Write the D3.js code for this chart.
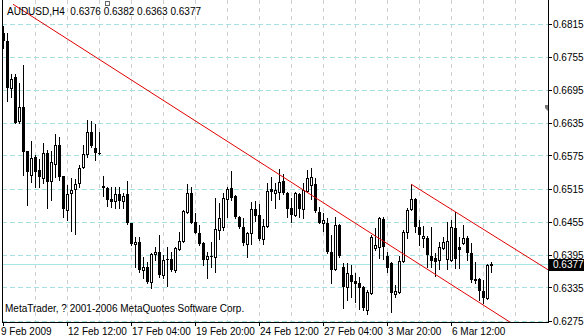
<!DOCTYPE html>
<html>
<head>
<meta charset="utf-8">
<script src="https://cdn.jsdelivr.net/npm/d3@7"></script>
<style>
  html, body { margin: 0; padding: 0; background: #fff; }
  svg { display: block; }
  text { font-family: "Liberation Sans", Arial, sans-serif; font-size: 10px; }
</style>
</head>
<body>
<div id="chart"></div>
<script>
// AUDUSD H4 bars (oldest first)
var symbol = "AUDUSD,H4";
var opens = [
  0.6797,0.6784,0.6697,0.6717,0.6637,0.6663,0.6583,0.6539,0.6572,0.6548,
  0.6534,0.6579,0.6528,0.6559,0.6595,0.6538,0.6476,0.6507,0.6514,0.6525,
  0.6554,0.6577,0.6617,0.6588,0.6579,0.6519,0.6516,0.6496,0.6492,0.6505,
  0.6492,0.6505,0.6452,0.6414,0.6418,0.6367,0.6372,0.6345,0.6396,0.6400,
  0.6358,0.6386,0.6387,0.6367,0.6405,0.6420,0.6472,0.6507,0.6454,0.6434,
  0.6416,0.6387,0.6392,0.6390,0.6440,0.6445,0.6496,0.6516,0.6501,0.6463,
  0.6445,0.6414,0.6434,0.6478,0.6467,0.6423,0.6447,0.6514,0.6507,0.6508,
  0.6528,0.6507,0.6479,0.6467,0.6505,0.6478,0.6510,0.6521,0.6523,0.6472,
  0.6452,0.6452,0.6400,0.6369,0.6449,0.6372,0.6336,0.6358,0.6347,0.6343,
  0.6336,0.6294,0.6325,0.6407,0.6409,0.6459,0.6392,0.6380,0.6323,0.6327,
  0.6383,0.6436,0.6478,0.6496,0.6445,0.6425,0.6425,0.6392,0.6389,0.6385,
  0.6407,0.6387,0.6385,0.6443,0.6409,0.6416,0.6425,0.6398,0.6351,0.6351,
  0.6329,0.6316,0.6376
];
var highs = [
  0.6811,0.6797,0.6724,0.6724,0.6706,0.6739,0.6584,0.6601,0.6576,0.6568,
  0.6597,0.6585,0.6583,0.6615,0.6608,0.6538,0.6521,0.6534,0.6532,0.6557,
  0.6595,0.6639,0.6637,0.6632,0.6617,0.6538,0.6518,0.6518,0.6518,0.6518,
  0.6507,0.6528,0.6453,0.6427,0.6427,0.6390,0.6381,0.6398,0.6409,0.6430,
  0.6394,0.6409,0.6400,0.6409,0.6436,0.6476,0.6523,0.6518,0.6470,0.6449,
  0.6417,0.6400,0.6418,0.6498,0.6488,0.6507,0.6518,0.6547,0.6503,0.6465,
  0.6461,0.6436,0.6490,0.6492,0.6487,0.6459,0.6525,0.6536,0.6525,0.6550,
  0.6541,0.6508,0.6498,0.6508,0.6507,0.6525,0.6548,0.6552,0.6534,0.6481,
  0.6470,0.6461,0.6430,0.6463,0.6450,0.6380,0.6380,0.6376,0.6361,0.6354,
  0.6337,0.6331,0.6430,0.6443,0.6463,0.6463,0.6400,0.6381,0.6340,0.6392,
  0.6440,0.6479,0.6523,0.6497,0.6458,0.6447,0.6429,0.6445,0.6398,0.6418,
  0.6427,0.6454,0.6458,0.6472,0.6427,0.6449,0.6429,0.6416,0.6381,0.6352,
  0.6349,0.6378,0.6382
];
var lows = [
  0.6770,0.6675,0.6681,0.6634,0.6635,0.6539,0.6485,0.6527,0.6518,0.6518,
  0.6525,0.6479,0.6494,0.6536,0.6530,0.6463,0.6458,0.6438,0.6432,0.6518,
  0.6552,0.6572,0.6590,0.6567,0.6577,0.6501,0.6483,0.6481,0.6479,0.6479,
  0.6479,0.6450,0.6412,0.6372,0.6363,0.6352,0.6343,0.6334,0.6385,0.6354,
  0.6352,0.6338,0.6365,0.6363,0.6403,0.6418,0.6470,0.6452,0.6434,0.6412,
  0.6376,0.6352,0.6372,0.6363,0.6423,0.6440,0.6463,0.6494,0.6461,0.6443,
  0.6412,0.6390,0.6414,0.6456,0.6421,0.6414,0.6445,0.6494,0.6479,0.6496,
  0.6505,0.6463,0.6454,0.6465,0.6463,0.6461,0.6508,0.6496,0.6472,0.6452,
  0.6438,0.6398,0.6343,0.6367,0.6390,0.6298,0.6313,0.6318,0.6309,0.6296,
  0.6294,0.6287,0.6324,0.6403,0.6389,0.6387,0.6363,0.6291,0.6318,0.6325,
  0.6381,0.6425,0.6476,0.6436,0.6412,0.6409,0.6372,0.6372,0.6356,0.6369,
  0.6405,0.6369,0.6383,0.6371,0.6371,0.6414,0.6385,0.6345,0.6343,0.6313,
  0.6307,0.6314,0.6363
];
var closes = [
  0.6784,0.6697,0.6715,0.6635,0.6663,0.6581,0.6545,0.6570,0.6545,0.6536,
  0.6579,0.6527,0.6563,0.6595,0.6536,0.6478,0.6505,0.6512,0.6523,0.6552,
  0.6577,0.6617,0.6592,0.6579,0.6578,0.6516,0.6494,0.6490,0.6505,0.6492,
  0.6501,0.6452,0.6414,0.6418,0.6367,0.6372,0.6345,0.6396,0.6400,0.6358,
  0.6385,0.6385,0.6367,0.6407,0.6420,0.6474,0.6507,0.6452,0.6434,0.6414,
  0.6385,0.6392,0.6391,0.6441,0.6461,0.6498,0.6514,0.6498,0.6463,0.6445,
  0.6416,0.6434,0.6478,0.6465,0.6423,0.6447,0.6510,0.6508,0.6512,0.6527,
  0.6507,0.6478,0.6467,0.6507,0.6478,0.6512,0.6534,0.6536,0.6474,0.6452,
  0.6458,0.6400,0.6367,0.6449,0.6392,0.6336,0.6361,0.6345,0.6342,0.6334,
  0.6298,0.6327,0.6427,0.6412,0.6461,0.6409,0.6371,0.6325,0.6329,0.6383,
  0.6436,0.6476,0.6496,0.6445,0.6430,0.6429,0.6394,0.6383,0.6381,0.6409,
  0.6418,0.6420,0.6445,0.6387,0.6403,0.6425,0.6398,0.6349,0.6347,0.6329,
  0.6316,0.6376,0.6377
];

var priceTicks = [0.6815,0.6755,0.6695,0.6635,0.6575,0.6515,0.6455,0.6395,0.6335,0.6275];
var timeTickBars = [0,16,32,48,64,80,96,112];
var timeTickLabels = ["9 Feb 2009","12 Feb 12:00","17 Feb 04:00","19 Feb 20:00",
  "24 Feb 12:00","27 Feb 04:00","3 Mar 20:00","6 Mar 12:00"];
var gridBars = [8,16,24,32,40,48,56,64,72,80,88,96,104,112,120,128];

// trend lines: [bar, price] anchor pairs, drawn as rays to the right
var trendLine = [[2.5,0.6850],[70,0.6536]];
var channelLine = [[102,0.6523],[113,0.6473]];

var copyright = "MetaTrader, ? 2001-2006 MetaQuotes Software Corp.";

var W = 584, H = 336;
var plotL = 2, plotR = 548, plotT = 0, plotB = 322;

var x = d3.scaleLinear().domain([0,1]).range([3,7]); // 4px per bar
var y = d3.scaleLinear().domain([0.6275,0.6815]).range([320.5,23.5]);

var svg = d3.select("#chart").append("svg")
  .attr("width", W).attr("height", H);

svg.append("rect").attr("width", W).attr("height", H).attr("fill", "#fff");

svg.append("clipPath").attr("id", "plotclip").append("rect")
  .attr("x", plotL + 1).attr("y", plotT).attr("width", plotR - plotL - 1).attr("height", plotB - plotT);

var plot = svg.append("g").attr("clip-path", "url(#plotclip)");

// vertical grid
plot.selectAll(".vgrid").data(gridBars).enter().append("line")
  .attr("x1", function (d) { return Math.round(x(d)) + 0.5; })
  .attr("x2", function (d) { return Math.round(x(d)) + 0.5; })
  .attr("y1", plotT).attr("y2", plotB)
  .attr("stroke", "#cfcfcf").attr("stroke-dasharray", "4,4");

// horizontal grid
plot.selectAll(".hgrid").data(priceTicks).enter().append("line")
  .attr("x1", plotL).attr("x2", plotR)
  .attr("y1", function (d) { return Math.round(y(d)) + 0.5; })
  .attr("y2", function (d) { return Math.round(y(d)) + 0.5; })
  .attr("stroke", "#a6e0e0").attr("stroke-dasharray", "5,3");

// bid line
var last = closes[closes.length - 1];
plot.append("line")
  .attr("x1", plotL).attr("x2", plotR)
  .attr("y1", Math.round(y(last)) + 0.5).attr("y2", Math.round(y(last)) + 0.5)
  .attr("stroke", "#a6e6e6");

// candles
var bars = d3.range(opens.length);
var candle = plot.selectAll(".bar").data(bars).enter().append("g")
  .attr("shape-rendering", "crispEdges");

candle.append("line")
  .attr("x1", function (i) { return Math.round(x(i)) + 0.5; })
  .attr("x2", function (i) { return Math.round(x(i)) + 0.5; })
  .attr("y1", function (i) { return Math.round(y(highs[i])); })
  .attr("y2", function (i) { return Math.round(y(lows[i])) + 1; })
  .attr("stroke", "#000");

candle.append("rect")
  .attr("x", function (i) {
    var cx = Math.round(x(i));
    return closes[i] >= opens[i] ? cx - 0.5 : cx - 1;
  })
  .attr("y", function (i) {
    var top = Math.round(y(Math.max(opens[i], closes[i])));
    return closes[i] >= opens[i] ? top + 0.5 : top;
  })
  .attr("width", function (i) { return closes[i] >= opens[i] ? 2 : 3; })
  .attr("height", function (i) {
    var h = Math.round(y(Math.min(opens[i], closes[i]))) - Math.round(y(Math.max(opens[i], closes[i])));
    return closes[i] >= opens[i] ? Math.max(h, 1) : Math.max(h, 1);
  })
  .attr("fill", function (i) { return closes[i] >= opens[i] ? "#fff" : "#000"; })
  .attr("stroke", function (i) { return closes[i] >= opens[i] ? "#000" : "none"; });

// trend lines (rays)
function ray(pts) {
  var x1 = x(pts[0][0]), y1 = y(pts[0][1]);
  var x2 = x(pts[1][0]), y2 = y(pts[1][1]);
  var k = (y2 - y1) / (x2 - x1);
  return [x1, y1, plotR, y1 + k * (plotR - x1)];
}
[trendLine, channelLine].forEach(function (pts) {
  var r = ray(pts);
  plot.append("line")
    .attr("x1", r[0]).attr("y1", r[1]).attr("x2", r[2]).attr("y2", r[3])
    .attr("stroke", "#e00000").attr("stroke-width", 1);
});

// frame
svg.append("line").attr("x1", plotL + 0.5).attr("x2", plotL + 0.5)
  .attr("y1", plotT).attr("y2", plotB + 1).attr("stroke", "#000");
svg.append("line").attr("x1", plotR + 0.5).attr("x2", plotR + 0.5)
  .attr("y1", plotT).attr("y2", plotB + 1).attr("stroke", "#000");
svg.append("line").attr("x1", plotL).attr("x2", plotR + 1)
  .attr("y1", plotB + 0.5).attr("y2", plotB + 0.5).attr("stroke", "#000");

// price axis
var pAxis = svg.append("g");
pAxis.selectAll(".ptick").data(priceTicks).enter().append("line")
  .attr("x1", plotR + 1).attr("x2", plotR + 4)
  .attr("y1", function (d) { return Math.round(y(d)) + 0.5; })
  .attr("y2", function (d) { return Math.round(y(d)) + 0.5; })
  .attr("stroke", "#000");
pAxis.selectAll(".plabel").data(priceTicks).enter().append("text")
  .attr("x", 553).attr("y", function (d) { return y(d) + 4; })
  .attr("fill", "#000")
  .text(function (d) { return d.toFixed(4); });

// current price marker
svg.append("rect").attr("x", plotR + 1).attr("y", Math.round(y(last)) - 5)
  .attr("width", W - plotR - 1).attr("height", 12).attr("fill", "#000");
svg.append("text").attr("x", 553).attr("y", y(last) + 4)
  .attr("fill", "#fff").text(last.toFixed(4));

// time axis
var tAxis = svg.append("g");
tAxis.selectAll(".ttick").data(timeTickBars).enter().append("line")
  .attr("x1", function (d) { return Math.round(x(d)) + 0.5; })
  .attr("x2", function (d) { return Math.round(x(d)) + 0.5; })
  .attr("y1", plotB).attr("y2", plotB + 4)
  .attr("stroke", "#000");
tAxis.selectAll(".tlabel").data(timeTickBars).enter().append("text")
  .attr("x", function (d, i) { return i === 0 ? 1 : Math.round(x(d)) + 1; })
  .attr("y", 335)
  .attr("fill", "#000")
  .text(function (d, i) { return timeTickLabels[i]; });

// header and footer text
svg.append("text").attr("x", 7).attr("y", 15).attr("fill", "#000")
  .attr("xml:space", "preserve")
  .text(symbol + "  " + opens[opens.length - 1].toFixed(4) + " " + highs[highs.length - 1].toFixed(4) +
    " " + lows[lows.length - 1].toFixed(4) + " " + last.toFixed(4));
svg.append("text").attr("x", 5).attr("y", 312).attr("fill", "#000").text(copyright);

// small chart markers (scale fix / shift)
svg.append("rect").attr("x", 105.5).attr("y", 1.5).attr("width", 4).attr("height", 4)
  .attr("fill", "#fff").attr("stroke", "#666");
svg.append("path").attr("d", "M545,105 L548,105 L548,111 L545,108 Z").attr("fill", "#777");
</script>
</body>
</html>
